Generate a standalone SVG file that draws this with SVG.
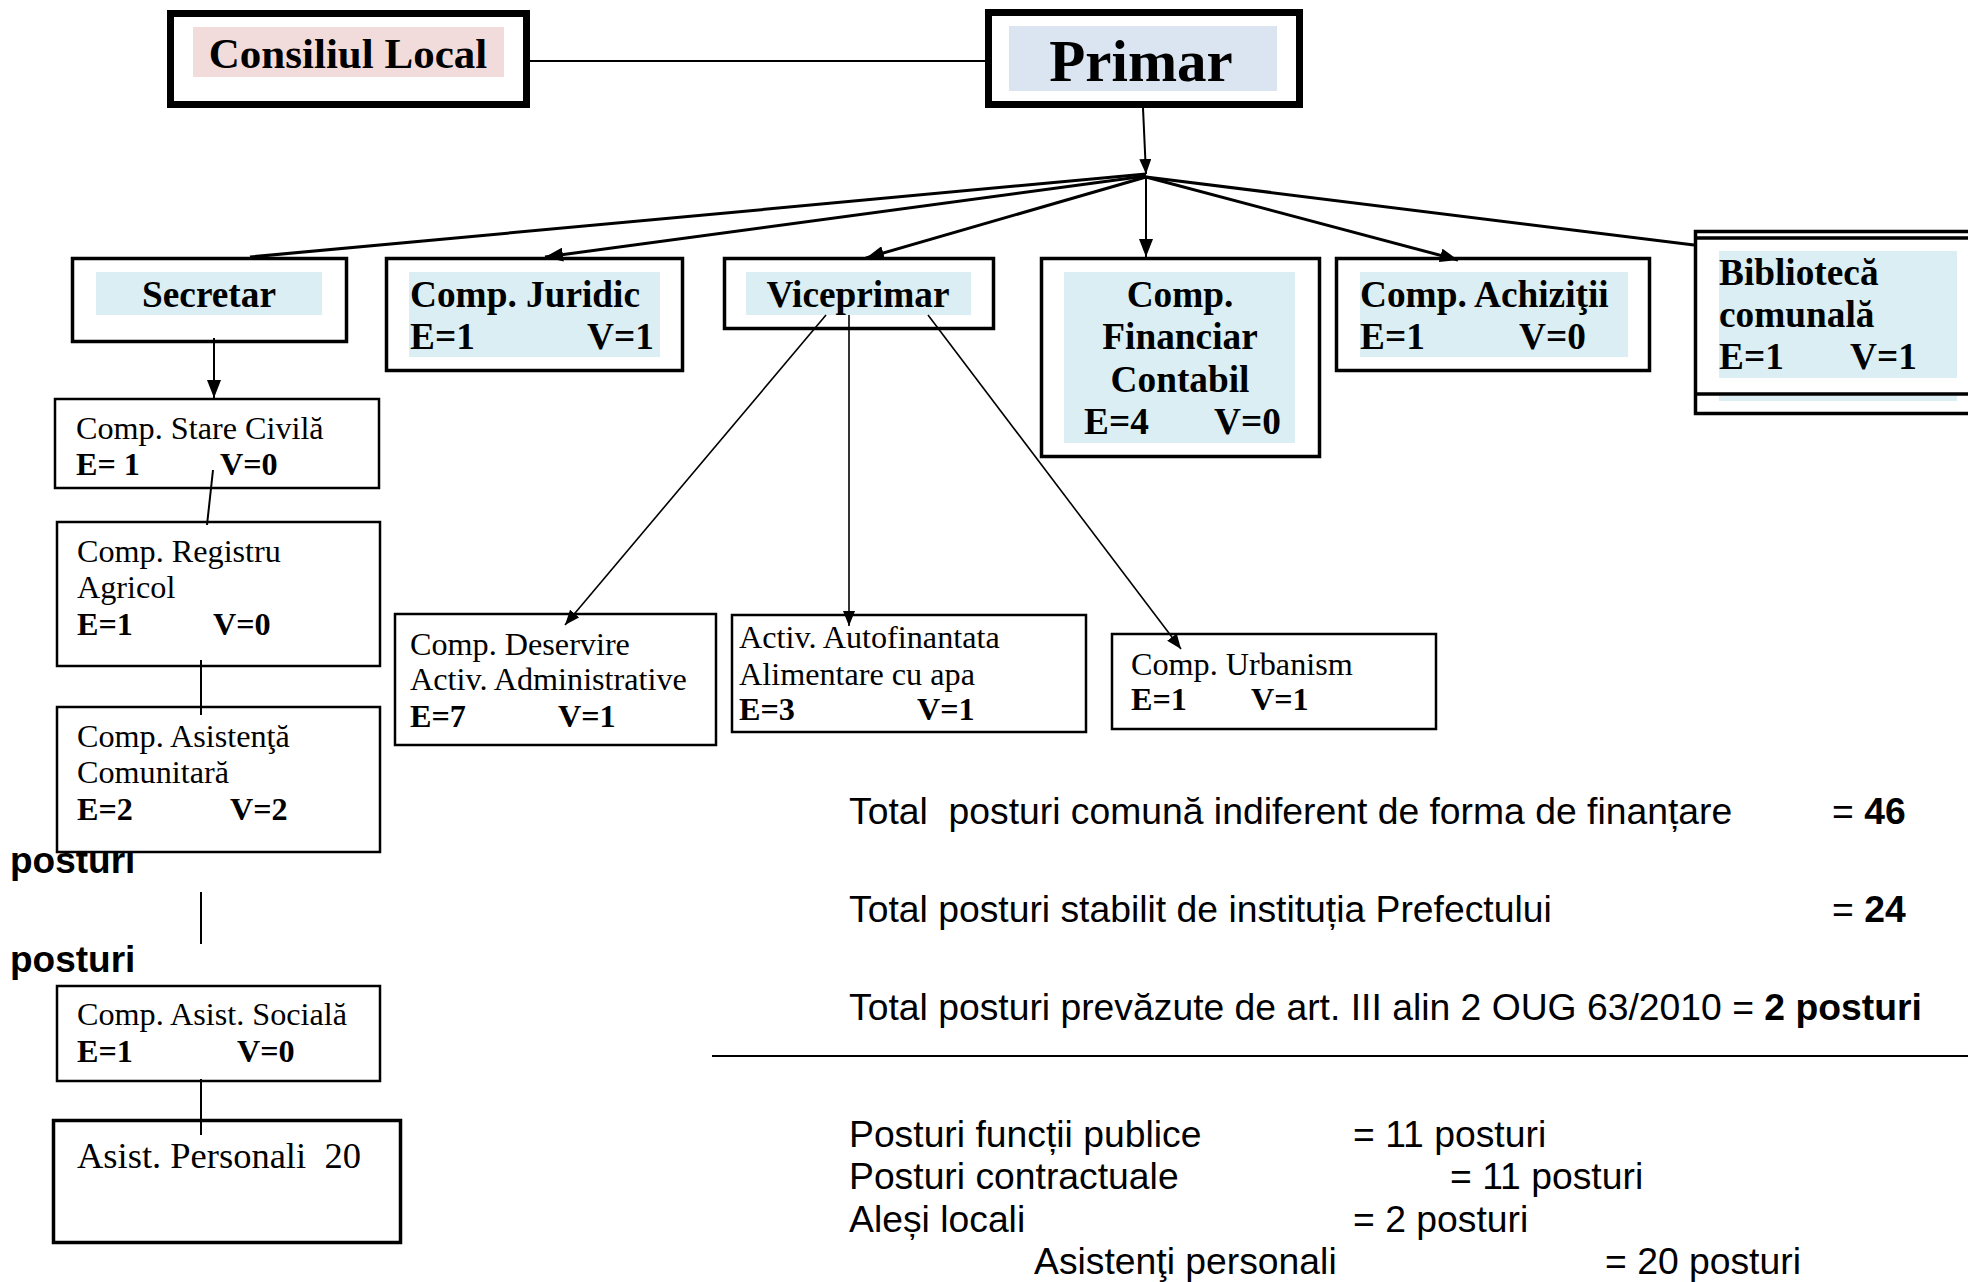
<svg xmlns="http://www.w3.org/2000/svg" width="1968" height="1282" viewBox="0 0 1968 1282">
<style>
.bx{fill:#fff;stroke:#000}
.thick{stroke-width:7}
.mid{stroke-width:3.5}
.thin{stroke-width:2.5}
.s{font-family:"Liberation Serif","Times New Roman",serif;fill:#000}
.b{font-weight:bold}
.t36{font-size:37.3px}
.t31{font-size:32.2px}
.a{font-family:"Liberation Sans",Arial,sans-serif;font-size:37.3px;fill:#000}
.ln{stroke:#000;fill:none}
</style>
<defs>
<marker id="ah" markerUnits="userSpaceOnUse" markerWidth="20" markerHeight="14" refX="18" refY="7" orient="auto"><path d="M0,0 L18,7 L0,14 Z" fill="#000"/></marker>
<marker id="ahs" markerUnits="userSpaceOnUse" markerWidth="16" markerHeight="12" refX="15" refY="6" orient="auto"><path d="M0,0 L15,6 L0,12 Z" fill="#000"/></marker>
</defs>
<rect width="1968" height="1282" fill="#fff"/>
<g id="free-text">
<text class="a" x="10" y="873" style="font-size:37px;font-weight:bold">posturi</text>
<text class="a" x="10" y="972" style="font-size:37px;font-weight:bold">posturi</text>
</g>
<g id="consiliul">
<rect class="bx thick" x="170.5" y="13.5" width="356" height="91"/>
<rect x="193" y="27" width="311" height="50" fill="#F2DCDB"/>
<text class="s b" x="348" y="68" text-anchor="middle" font-size="43">Consiliul Local</text>
</g>
<g id="primar">
<rect class="bx thick" x="988.5" y="12.5" width="311" height="92"/>
<rect x="1009" y="26" width="268" height="65" fill="#DBE5F1"/>
<text class="s b" x="1141" y="81" text-anchor="middle" font-size="59">Primar</text>
</g>
<g id="secretar">
<rect class="bx mid" x="72.5" y="258.5" width="274" height="83"/>
<rect x="96" y="272" width="226" height="43" fill="#DAEEF3"/>
<text class="s b t36" x="209" y="307" text-anchor="middle">Secretar</text>
</g>
<g id="juridic">
<rect class="bx mid" x="386.5" y="258.5" width="296" height="112"/>
<rect x="409" y="272" width="251" height="85" fill="#DAEEF3"/>
<text class="s b t36" x="410" y="307">Comp. Juridic</text>
<text class="s b t36" x="410" y="349">E=1</text>
<text class="s b t36" x="587" y="349">V=1</text>
</g>
<g id="viceprimar">
<rect class="bx mid" x="724.5" y="258.5" width="269" height="70"/>
<rect x="746" y="272" width="225" height="43" fill="#DAEEF3"/>
<text class="s b t36" x="858" y="307" text-anchor="middle">Viceprimar</text>
</g>
<g id="financiar">
<rect class="bx mid" x="1041.5" y="258.5" width="278" height="198"/>
<rect x="1064" y="272" width="231" height="171" fill="#DAEEF3"/>
<text class="s b t36" x="1180" y="307" text-anchor="middle">Comp.</text>
<text class="s b t36" x="1180" y="349" text-anchor="middle">Financiar</text>
<text class="s b t36" x="1180" y="392" text-anchor="middle">Contabil</text>
<text class="s b t36" x="1084" y="434">E=4</text>
<text class="s b t36" x="1214" y="434">V=0</text>
</g>
<g id="achizitii">
<rect class="bx mid" x="1336.5" y="258.5" width="313" height="112"/>
<rect x="1360" y="272" width="268" height="85" fill="#DAEEF3"/>
<text class="s b t36" x="1360" y="307">Comp. Achiziţii</text>
<text class="s b t36" x="1360" y="349">E=1</text>
<text class="s b t36" x="1519" y="349">V=0</text>
</g>
<g id="biblioteca">
<rect class="bx mid" x="1695.5" y="231.5" width="300" height="182"/>
<rect x="1719" y="251" width="238" height="127" fill="#DAEEF3"/>
<rect x="1719" y="396" width="238" height="5" fill="#DAEEF3"/>
<line class="ln" x1="1694" y1="238" x2="1968" y2="238" stroke-width="3.5"/>
<line class="ln" x1="1694" y1="394" x2="1968" y2="394" stroke-width="3.5"/>
<text class="s b t36" x="1719" y="285">Bibliotecă</text>
<text class="s b t36" x="1719" y="327">comunală</text>
<text class="s b t36" x="1719" y="369">E=1</text>
<text class="s b t36" x="1850" y="369">V=1</text>
</g>
<g id="stare-civila">
<rect class="bx thin" x="55" y="399" width="324" height="89"/>
<text class="s t31" x="76" y="439">Comp. Stare Civilă</text>
<text class="s b t31" x="76" y="475">E= 1</text>
<text class="s b t31" x="220" y="475">V=0</text>
</g>
<g id="registru">
<rect class="bx thin" x="57" y="522" width="323" height="144"/>
<text class="s t31" x="77" y="562">Comp. Registru</text>
<text class="s t31" x="77" y="598">Agricol</text>
<text class="s b t31" x="77" y="635">E=1</text>
<text class="s b t31" x="213" y="635">V=0</text>
</g>
<g id="asistenta">
<rect class="bx thin" x="57" y="707" width="323" height="145"/>
<text class="s t31" x="77" y="747">Comp. Asistenţă</text>
<text class="s t31" x="77" y="783">Comunitară</text>
<text class="s b t31" x="77" y="820">E=2</text>
<text class="s b t31" x="230" y="820">V=2</text>
</g>
<g id="asist-sociala">
<rect class="bx thin" x="57" y="986" width="323" height="95"/>
<text class="s t31" x="77" y="1025">Comp. Asist. Socială</text>
<text class="s b t31" x="77" y="1062">E=1</text>
<text class="s b t31" x="237" y="1062">V=0</text>
</g>
<g id="asist-personali">
<rect class="bx mid" x="53.5" y="1120.5" width="347" height="122"/>
<text class="s" x="77" y="1168" font-size="36.5" xml:space="preserve">Asist. Personali  20</text>
</g>
<g id="deservire">
<rect class="bx thin" x="395" y="614" width="321" height="131"/>
<text class="s t31" x="410" y="655">Comp. Deservire</text>
<text class="s t31" x="410" y="690">Activ. Administrative</text>
<text class="s b t31" x="410" y="727">E=7</text>
<text class="s b t31" x="558" y="727">V=1</text>
</g>
<g id="autofinantata">
<rect class="bx thin" x="732" y="615" width="354" height="117"/>
<text class="s t31" x="739" y="648">Activ. Autofinantata</text>
<text class="s t31" x="739" y="685">Alimentare cu apa</text>
<text class="s b t31" x="739" y="720">E=3</text>
<text class="s b t31" x="917" y="720">V=1</text>
</g>
<g id="urbanism">
<rect class="bx thin" x="1112" y="634" width="324" height="95"/>
<text class="s t31" x="1131" y="675">Comp. Urbanism</text>
<text class="s b t31" x="1131" y="710">E=1</text>
<text class="s b t31" x="1251" y="710">V=1</text>
</g>
<g id="connectors">
<line class="ln" x1="530" y1="61" x2="985" y2="61" stroke-width="2"/>
<line class="ln" x1="1143" y1="108" x2="1146" y2="174" stroke-width="2" marker-end="url(#ahs)"/>
<line class="ln" x1="1146" y1="174" x2="250" y2="257" stroke-width="3"/>
<line class="ln" x1="1146" y1="176" x2="545" y2="257" stroke-width="3" marker-end="url(#ah)"/>
<line class="ln" x1="1146" y1="177" x2="866" y2="258" stroke-width="3" marker-end="url(#ah)"/>
<line class="ln" x1="1146" y1="177" x2="1146" y2="257" stroke-width="2" marker-end="url(#ah)"/>
<line class="ln" x1="1146" y1="177" x2="1458" y2="260" stroke-width="3" marker-end="url(#ah)"/>
<line class="ln" x1="1146" y1="177" x2="1694" y2="245" stroke-width="3"/>
<line class="ln" x1="214" y1="338" x2="214" y2="398" stroke-width="2" marker-end="url(#ah)"/>
<line class="ln" x1="213" y1="470" x2="207" y2="525" stroke-width="2"/>
<line class="ln" x1="201" y1="660" x2="201" y2="715" stroke-width="2"/>
<line class="ln" x1="201" y1="892" x2="201" y2="944" stroke-width="2"/>
<line class="ln" x1="201" y1="1079" x2="201" y2="1135" stroke-width="2"/>
<line class="ln" x1="826" y1="315" x2="565" y2="625" stroke-width="1.6" marker-end="url(#ahs)"/>
<line class="ln" x1="849" y1="315" x2="849" y2="626" stroke-width="1.6" marker-end="url(#ahs)"/>
<line class="ln" x1="928" y1="315" x2="1181" y2="649" stroke-width="1.6" marker-end="url(#ahs)"/>
<line class="ln" x1="712" y1="1056" x2="1968" y2="1056" stroke-width="2"/>
</g>
<g id="totals">
<text class="a" x="849" y="824" xml:space="preserve">Total  posturi comună indiferent de forma de finanțare</text>
<text class="a" x="1832" y="824">= <tspan font-weight="bold">46</tspan></text>
<text class="a" x="849" y="922">Total posturi stabilit de instituția Prefectului</text>
<text class="a" x="1832" y="922">= <tspan font-weight="bold">24</tspan></text>
<text class="a" x="849" y="1020">Total posturi prevăzute de art. III alin 2 OUG 63/2010 = <tspan font-weight="bold">2 posturi</tspan></text>
<text class="a" x="849" y="1147">Posturi funcții publice</text>
<text class="a" x="1353" y="1147">= 11 posturi</text>
<text class="a" x="849" y="1189">Posturi contractuale</text>
<text class="a" x="1450" y="1189">= 11 posturi</text>
<text class="a" x="849" y="1232">Aleși locali</text>
<text class="a" x="1353" y="1232">= 2 posturi</text>
<text class="a" x="1034" y="1274">Asistenţi personali</text>
<text class="a" x="1605" y="1274">= 20 posturi</text>
</g>
</svg>
